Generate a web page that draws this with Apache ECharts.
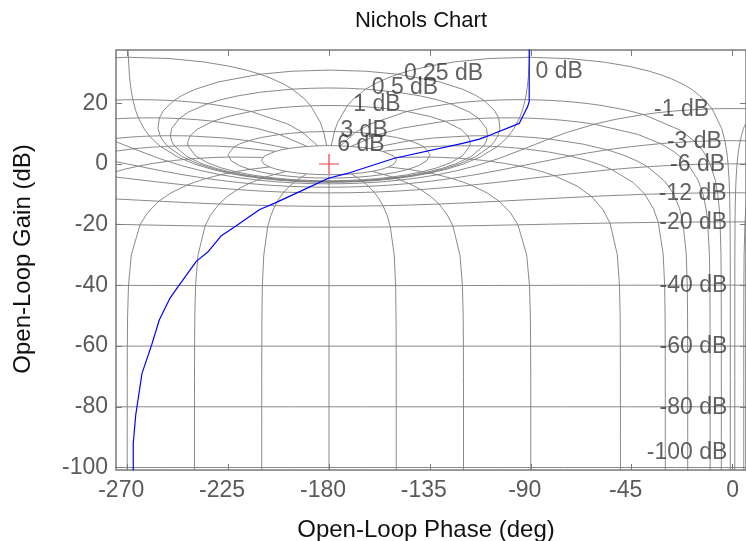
<!DOCTYPE html>
<html><head><meta charset="utf-8">
<script src="https://cdn.jsdelivr.net/npm/echarts@6/dist/echarts.min.js"></script>
<style>html,body{margin:0;padding:0;background:#fff;overflow:hidden}#c{width:746px;height:541px}</style>
</head><body><div id="c"></div>
<script>
// ---- open-loop response ----
const olPhase = [-267.3, -267.3, -266.2, -263.4, -259.1, -255.7, -251.0, -247.3, -239.1, -233.9, -228.0, -222.0, -210.9, -204.2, -193.1, -180.0, -170.8, -150.8, -120.4, -112.9, -110.0, -95.1, -92.9, -91.4, -90.7, -90.7];
const olGain  = [-101.2, -92.0, -82.7, -69.0, -59.6, -51.4, -44.3, -40.4, -32.0, -28.9, -23.6, -20.7, -15.0, -12.9, -9.1, -4.6, -2.9, 1.9, 6.8, 8.2, 9.0, 13.4, 16.7, 18.9, 20.5, 41.0];

// ---- Nichols grid definition ----
const mLevelsDb = [6, 3, 1, 0.5, 0.25, 0, -1, -3, -6, -12, -20, -40, -60, -80, -100, -120];
const mLabelLevels = [6, 3, 1, 0.5, 0.25, 0, -1, -3, -6, -12, -20, -40, -60, -80, -100];
const nLevelsDeg = [1, 5, 10, 20, 30, 50, 90, 120, 150, 180];
const clGainSamplesDb = [-140, -120, -110, -100, -90, -80, -70, -60, -50, -40, -30, -20, -16, -12, -9, -6, -5, -4, -3, -2, -1, -0.75, -0.5, -0.4, -0.3, -0.25, -0.2, -0.15, -0.1, -0.05, 0, 0.05, 0.1, 0.15, 0.2, 0.25, 0.3, 0.4, 0.5, 0.75, 1, 2, 3, 6];
const clPhaseSamplesDeg = [0, 0.5, 1, 2, 3, 4, 5, 7.5, 10, 15, 20, 25, 30, 45, 60, 75, 90, 105, 120, 135, 150, 165, 180];

// ---- tick values ----
const xTicks = [-270, -225, -180, -135, -90, -45, 0];
const yTicks = [-100, -80, -60, -40, -20, 0, 20];
const xRange = [-275, 6];
const yRange = [-100.82, 37.56];
const critical = [[-180, 0]];

const FONT = "'Liberation Sans', Arial, Helvetica, sans-serif";

// closed loop T = m e^{-j lag}  ->  open loop L = T/(1-T)
function openLoop(mDb, lagDeg) {
  const m = Math.pow(10, mDb / 20), th = lagDeg * Math.PI / 180;
  const Tr = m * Math.cos(th), Ti = -m * Math.sin(th);
  const Dr = 1 - Tr, Di = -Ti;
  const d2 = Dr * Dr + Di * Di;
  const Lr = (Tr * Dr + Ti * Di) / d2, Li = (Ti * Dr - Tr * Di) / d2;
  return { ph: Math.atan2(Li, Lr) * 180 / Math.PI, g: 20 * Math.log10(m / Math.sqrt(d2)) };
}
function unwrapTo(raw, target) {
  const out = [];
  let prev = null;
  raw.forEach(p => {
    let v = p.ph;
    if (prev !== null) { while (v - prev > 180) v -= 360; while (v - prev < -180) v += 360; }
    out.push([v, p.g]); prev = v;
  });
  const k = Math.round((target - out[0][0]) / 360) * 360;
  return out.map(q => [q[0] + k, q[1]]);
}
const lags = clPhaseSamplesDeg.concat(clPhaseSamplesDeg.slice(0, -1).reverse().map(v => 360 - v));
const curves = [];
mLevelsDb.forEach(mDb => {
  const ls = lags.filter(t => !(mDb === 0 && (t === 0 || t === 360)));
  const raw = ls.map(t => openLoop(mDb, t));
  curves.push(unwrapTo(raw, mDb < 0 ? 0 : (mDb === 0 ? raw[0].ph : -180)));
});
const allLags = nLevelsDeg.concat(nLevelsDeg.filter(v => v !== 180).map(v => 360 - v));
allLags.forEach(lag => {
  const raw = clGainSamplesDb.map(g => openLoop(g, lag));
  curves.push(unwrapTo(raw, -lag));
});
const gridSeries = [];
curves.forEach(c => {
  [0, 360].forEach(shift => {
    gridSeries.push({
      type: 'line', data: c.map(p => [p[0] + shift, p[1]]), showSymbol: false, silent: true,
      clip: true, z: 1,
      lineStyle: { color: '#7c7c7c', width: 0.9 }
    });
  });
});

// contour labels anchored on the contours
const labelData = mLabelLevels.map(mDb => {
  const lag = mDb === 0 ? 2 : 1;
  const p = openLoop(mDb, lag);
  let g = Math.max(p.g, yRange[0] + 6);
  g = Math.min(g, yRange[1] - 6);
  const pos = mDb > 0 ? [6, -1] : (mDb === 0 ? [7, -4] : [-3, 1]);
  return {
    value: [p.ph, g],
    label: { position: pos, align: mDb >= 0 ? 'left' : 'right', verticalAlign: 'middle',
      formatter: mDb + ' dB' }
  };
});

const chart = echarts.init(document.getElementById('c'), null, { renderer: 'canvas' });
const tickLabel = { color: '#5a5a5a', fontFamily: FONT, fontSize: 23 };
const tickStyle = { color: '#7a7a7a', width: 1 };
chart.setOption({
  animation: false,
  backgroundColor: '#ffffff',
  grid: { left: 116, right: -1.1, top: 50, bottom: 71, show: true, borderColor: '#7a7a7a', borderWidth: 1.5, backgroundColor: 'transparent' },
  graphic: [
    { type: 'text', x: 421, y: 21, style: { text: 'Nichols Chart', font: '22px ' + FONT, fill: '#111', align: 'center', verticalAlign: 'middle' } },
    { type: 'text', x: 426, y: 530, style: { text: 'Open-Loop Phase (deg)', font: '24px ' + FONT, fill: '#111', align: 'center', verticalAlign: 'middle' } },
    { type: 'text', x: 23, y: 259, rotation: Math.PI / 2, style: { text: 'Open-Loop Gain (dB)', font: '24px ' + FONT, fill: '#111', align: 'center', verticalAlign: 'middle' } }
  ],
  xAxis: [
    { type: 'value', min: xRange[0], max: xRange[1], position: 'bottom',
      axisLine: { show: false, onZero: false }, splitLine: { show: false },
      axisTick: { show: true, inside: true, length: 6, customValues: xTicks, lineStyle: tickStyle },
      axisLabel: { show: true, customValues: xTicks, margin: 9,
        formatter: v => v < 0 ? '{n|' + v + '}' : '{z|' + v + '}',
        rich: { n: Object.assign({ padding: [0, 12, 0, 0] }, tickLabel), z: Object.assign({}, tickLabel) } } },
    { type: 'value', min: xRange[0], max: xRange[1], position: 'top',
      axisLine: { show: false, onZero: false }, splitLine: { show: false },
      axisTick: { show: true, inside: true, length: 6, customValues: xTicks, lineStyle: tickStyle },
      axisLabel: { show: false } }
  ],
  yAxis: [
    { type: 'value', min: yRange[0], max: yRange[1], position: 'left',
      axisLine: { show: false, onZero: false }, splitLine: { show: false },
      axisTick: { show: true, inside: true, length: 6, customValues: yTicks, lineStyle: tickStyle },
      axisLabel: Object.assign({ show: true, customValues: yTicks, margin: 8 }, tickLabel) },
    { type: 'value', min: yRange[0], max: yRange[1], position: 'right',
      axisLine: { show: false, onZero: false }, splitLine: { show: false },
      axisTick: { show: true, inside: true, length: 6, customValues: yTicks, lineStyle: tickStyle },
      axisLabel: { show: false } }
  ],
  series: gridSeries.concat([
    { type: 'scatter', data: labelData, symbolSize: 0, silent: true, z: 3,
      label: { show: true, color: '#3a3a3a', fontFamily: FONT, fontSize: 23 } },
    { type: 'line', data: olPhase.map((p, i) => [p, olGain[i]]), showSymbol: false, clip: true, z: 4,
      lineStyle: { color: '#0000ff', width: 1.2 } },
    { type: 'scatter', data: critical, symbol: 'path://M9.4,0h1.2v20h-1.2z M0,9.4h20v1.2h-20z', symbolSize: 20,
      itemStyle: { color: '#e81010' }, z: 5, silent: true }
  ])
});
</script></body></html>
